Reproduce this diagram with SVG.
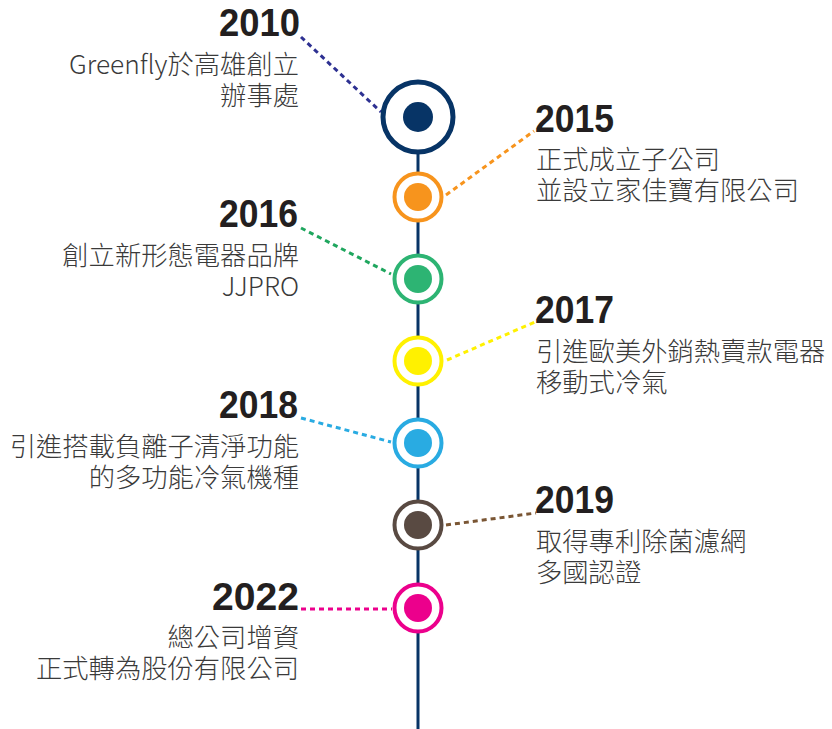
<svg xmlns="http://www.w3.org/2000/svg" width="832" height="729" viewBox="0 0 832 729">
<style>
.yr{font-family:"Liberation Sans",Arial,sans-serif;font-weight:700;font-size:39px;fill:#231F20}
.ds{font-family:"Noto Sans CJK TC","Noto Sans",sans-serif;font-weight:300;font-size:26.3px;fill:#3A3A3A}
.l{text-anchor:end}
.ring{fill:#fff;stroke-width:4}
.dash{fill:none;stroke-width:3;stroke-dasharray:5 4}
</style>
<rect width="832" height="729" fill="#fff"/>
<g id="spine">
<line x1="418" y1="150" x2="418" y2="729" stroke="#073466" stroke-width="3"/>
</g>
<g id="connectors">
<line class="dash" x1="301" y1="37" x2="381" y2="112" stroke="#2E3192"/>
<line class="dash" x1="446" y1="195" x2="534" y2="131" stroke="#F7941D"/>
<line class="dash" x1="301" y1="228" x2="391" y2="274" stroke="#1FA65E"/>
<line class="dash" x1="447" y1="360" x2="535" y2="322" stroke="#FFF100"/>
<line class="dash" x1="301" y1="418" x2="391" y2="442" stroke="#29ABE2"/>
<line class="dash" x1="446" y1="525" x2="536" y2="513" stroke="#7A5634"/>
<line class="dash" x1="301" y1="609" x2="392" y2="609" stroke="#EC008C"/>
</g>
<g id="n2010">
<circle cx="418" cy="117" r="35" fill="#fff" stroke="#073466" stroke-width="5"/>
<circle cx="418" cy="117" r="15" fill="#073466"/>
<text class="yr l" x="300" y="36" textLength="81" lengthAdjust="spacingAndGlyphs">2010</text>
<text class="ds l" x="299" y="74">Greenfly於高雄創立</text>
<text class="ds l" x="299" y="105">辦事處</text>
</g>
<g id="n2015">
<circle class="ring" cx="418" cy="197" r="23.5" stroke="#F7941D"/>
<circle cx="418" cy="197" r="14" fill="#F7941D"/>
<text class="yr" x="535" y="132" textLength="79" lengthAdjust="spacingAndGlyphs">2015</text>
<text class="ds" x="536" y="169">正式成立子公司</text>
<text class="ds" x="536" y="200">並設立家佳寶有限公司</text>
</g>
<g id="n2016">
<circle class="ring" cx="418" cy="279" r="23.5" stroke="#2DB473"/>
<circle cx="418" cy="279" r="14" fill="#2DB473"/>
<text class="yr l" x="298" y="227" textLength="79" lengthAdjust="spacingAndGlyphs">2016</text>
<text class="ds l" x="299" y="265">創立新形態電器品牌</text>
<text class="ds l" x="299" y="296">JJPRO</text>
</g>
<g id="n2017">
<circle class="ring" cx="418" cy="361" r="23.5" stroke="#FFF100"/>
<circle cx="418" cy="361" r="14" fill="#FFF100"/>
<text class="yr" x="535" y="323" textLength="79" lengthAdjust="spacingAndGlyphs">2017</text>
<text class="ds" x="536" y="361">引進歐美外銷熱賣款電器</text>
<text class="ds" x="536" y="392">移動式冷氣</text>
</g>
<g id="n2018">
<circle class="ring" cx="418" cy="443" r="23.5" stroke="#29ABE2"/>
<circle cx="418" cy="443" r="14" fill="#29ABE2"/>
<text class="yr l" x="298" y="418" textLength="79" lengthAdjust="spacingAndGlyphs">2018</text>
<text class="ds l" x="299" y="456">引進搭載負離子清淨功能</text>
<text class="ds l" x="299" y="487">的多功能冷氣機種</text>
</g>
<g id="n2019">
<circle class="ring" cx="418" cy="525" r="23.5" stroke="#594A42"/>
<circle cx="418" cy="525" r="14" fill="#594A42"/>
<text class="yr" x="535" y="513" textLength="79" lengthAdjust="spacingAndGlyphs">2019</text>
<text class="ds" x="536" y="551">取得專利除菌濾網</text>
<text class="ds" x="536" y="582">多國認證</text>
</g>
<g id="n2022">
<circle class="ring" cx="418" cy="608" r="23.5" stroke="#EC008C"/>
<circle cx="418" cy="608" r="14" fill="#EC008C"/>
<text class="yr l" x="299" y="610" textLength="87" lengthAdjust="spacingAndGlyphs">2022</text>
<text class="ds l" x="299" y="647">總公司增資</text>
<text class="ds l" x="299" y="678">正式轉為股份有限公司</text>
</g>
</svg>
